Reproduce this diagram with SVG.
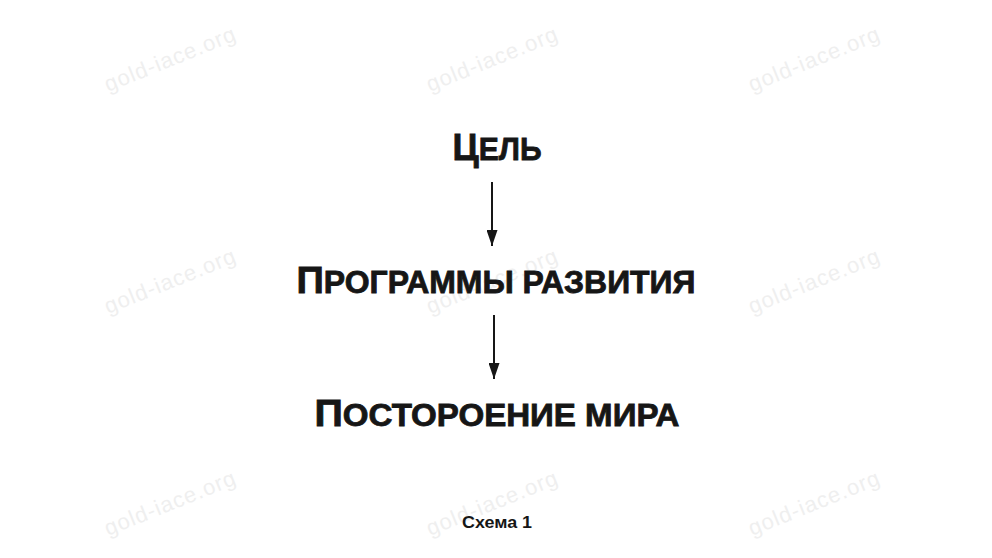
<svg xmlns="http://www.w3.org/2000/svg" width="992" height="558" viewBox="0 0 992 558">
<style>
.wm{font-family:"Liberation Sans","DejaVu Sans",sans-serif;font-size:22px;fill:#efefef;letter-spacing:1px}
.t{font-family:"Liberation Sans","DejaVu Sans",sans-serif;font-weight:bold;fill:#161616;text-anchor:middle}
.heavy{stroke:#161616;stroke-width:0.8}
.sc{text-transform:uppercase}
.cap{font-size:37px}
.small{font-size:31px}
.line{stroke:#161616;stroke-width:2;fill:none}
</style>
<defs>
<marker id="arrow" viewBox="0 0 16 11" refX="16" refY="5.5" markerWidth="16" markerHeight="11" orient="auto" markerUnits="userSpaceOnUse">
<path d="M0,0 L16,5.5 L0,11 z" fill="#161616"/>
</marker>
</defs>
<rect width="992" height="558" fill="#ffffff"/>
<g id="watermarks">
<text class="wm" transform="translate(108,92) rotate(-22)">gold-iace.org</text>
<text class="wm" transform="translate(430,92) rotate(-22)">gold-iace.org</text>
<text class="wm" transform="translate(752,92) rotate(-22)">gold-iace.org</text>
<text class="wm" transform="translate(108,314) rotate(-22)">gold-iace.org</text>
<text class="wm" transform="translate(430,314) rotate(-22)">gold-iace.org</text>
<text class="wm" transform="translate(752,314) rotate(-22)">gold-iace.org</text>
<text class="wm" transform="translate(108,536) rotate(-22)">gold-iace.org</text>
<text class="wm" transform="translate(430,536) rotate(-22)">gold-iace.org</text>
<text class="wm" transform="translate(752,536) rotate(-22)">gold-iace.org</text>
</g>
<g id="connectors">
<line class="line" x1="492" y1="182" x2="492" y2="246" marker-end="url(#arrow)"/>
<line class="line" x1="494" y1="315" x2="494" y2="379" marker-end="url(#arrow)"/>
</g>
<g id="node-goal">
<text class="t heavy" x="497" y="160" textLength="89" lengthAdjust="spacingAndGlyphs"><tspan class="cap">Ц</tspan><tspan class="small sc">ель</tspan></text>
</g>
<g id="node-programs">
<text class="t heavy" x="496" y="293" textLength="399" lengthAdjust="spacingAndGlyphs"><tspan class="cap">П</tspan><tspan class="small sc">рограммы развития</tspan></text>
</g>
<g id="node-world">
<text class="t heavy" x="497" y="426" textLength="365" lengthAdjust="spacingAndGlyphs"><tspan class="cap">П</tspan><tspan class="small sc">остороение мира</tspan></text>
</g>
<g id="caption">
<text class="t" x="497" y="528" font-size="16" textLength="70" lengthAdjust="spacingAndGlyphs">Схема 1</text>
</g>
</svg>
